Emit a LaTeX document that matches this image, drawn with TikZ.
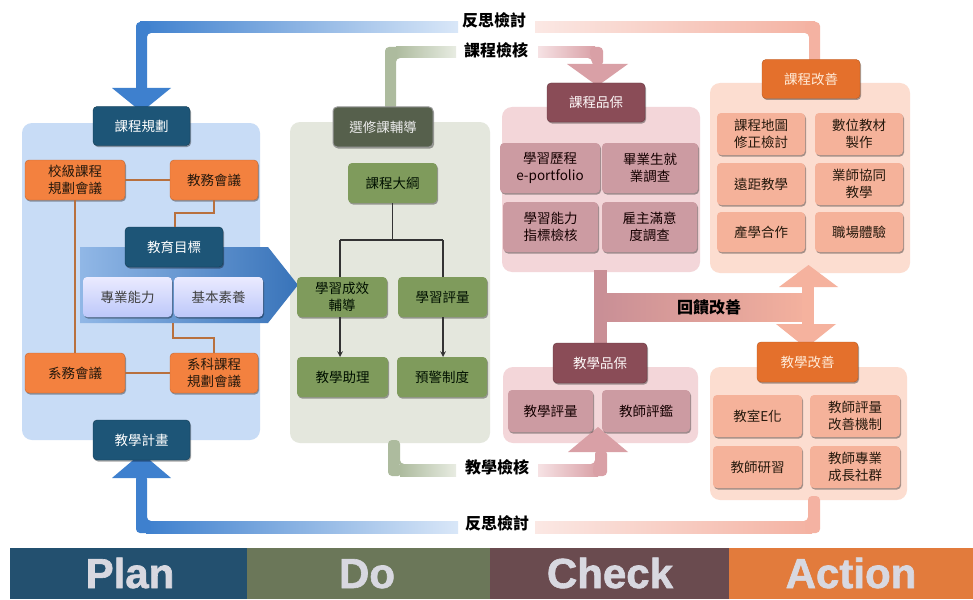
\documentclass[tikz,border=0pt]{standalone}
\usepackage{fontspec}
\newfontfamily\cjk{Noto Sans CJK TC}
\newfontfamily\band{Liberation Sans}[BoldFeatures={FakeBold=1.5}]
\usetikzlibrary{shadows}
\definecolor{bluA}{HTML}{3E80CE}
\definecolor{bluL}{HTML}{D9E7F8}
\definecolor{pinkA}{HTML}{F4B2A2}
\definecolor{pinkL}{HTML}{FBE8E4}
\definecolor{grnA}{HTML}{ADBB9E}
\definecolor{grnL}{HTML}{E8ECE2}
\definecolor{mauveA}{HTML}{D9A0A6}
\definecolor{mauveB}{HTML}{C98F96}
\definecolor{mauveL}{HTML}{F6E2E4}
\definecolor{salm}{HTML}{F5B29E}
\definecolor{planPanel}{HTML}{C8DCF6}
\definecolor{doPanel}{HTML}{E4E7DD}
\definecolor{chkPanel}{HTML}{F3D6D9}
\definecolor{actPanel}{HTML}{FCDDD0}
\definecolor{planHdr}{HTML}{1D5577}
\definecolor{planOr}{HTML}{F3813F}
\definecolor{doHdr}{HTML}{56604C}
\definecolor{doItem}{HTML}{7F9B5C}
\definecolor{chkHdr}{HTML}{8A4C57}
\definecolor{chkItem}{HTML}{CC9BA2}
\definecolor{actHdr}{HTML}{E4702C}
\definecolor{actItem}{HTML}{F5B29A}
\definecolor{lineOr}{HTML}{B8703E}
\definecolor{bandPlan}{HTML}{23506F}
\definecolor{bandDo}{HTML}{6B7759}
\definecolor{bandChk}{HTML}{6A4B4F}
\definecolor{bandAct}{HTML}{E27B3C}
\definecolor{bandTxt}{HTML}{D8D8E0}
\tikzset{
  shad/.style={drop shadow={shadow xshift=1pt,shadow yshift=-1.5pt,opacity=0.35,fill=black}},
  txt/.style={font=\cjk\fontsize{13.5}{17}\selectfont, align=center, inner sep=0pt},
  hdr/.style={txt, rounded corners=4pt, minimum height=39pt, shad},
  itm/.style={txt, rounded corners=4pt, shad},
  planhdr/.style={hdr, fill=planHdr, draw=planHdr!70!black, text=white},
  planor/.style={itm, fill=planOr, draw=planOr!80!black, text=black!80!brown, minimum width=98pt, minimum height=40pt},
  planlt/.style={itm, top color=blue!8!white, bottom color=planPanel!80!blue!70!white, text=black!75, minimum width=88pt, minimum height=40pt},
  dohdr/.style={hdr, fill=doHdr, draw=gray!80, line width=1pt, text=white!92!black},
  doitm/.style={itm, fill=doItem, text=black!80!green!30!black, minimum width=89pt, minimum height=40pt},
  chkhdr/.style={hdr, fill=chkHdr, draw=chkHdr!75!black, text=white!92!pink},
  chkitm/.style={itm, fill=chkItem, text=black!80!red!40!black, minimum height=50pt},
  acthdr/.style={hdr, fill=actHdr, draw=actHdr!80!black, text=orange!15!white},
  actitm/.style={itm, fill=actItem, text=black!80!brown, minimum width=88pt, minimum height=42pt},
  panel/.style={rounded corners=10pt},
  lbl/.style={font=\cjk\bfseries\fontsize{16}{18}\selectfont, text=black, inner sep=0pt},
  orline/.style={draw=lineOr, line width=1.6pt},
  tree/.style={draw=black!80, line width=1.5pt},
  bandtxt/.style={font=\band\bfseries\fontsize{42}{42}\selectfont, text=bandTxt, anchor=base, inner sep=0pt}
}
\begin{document}
\begin{tikzpicture}[x=1pt,y=-1pt]
\useasboundingbox (0,0) rectangle (973,599);
\fill[white] (0,0) rectangle (973,599);

% ---------- panels ----------
\fill[panel, planPanel] (22,123) rectangle (260,440);
\fill[panel, doPanel] (290,122) rectangle (490,443);
\fill[panel, chkPanel] (502,107) rectangle (700,272);
\fill[panel, chkPanel] (503,367) rectangle (698,443);
\fill[panel, actPanel] (710,83) rectangle (910,273);
\fill[panel, actPanel] (710,367) rectangle (907,500);

% ---------- big arrows ----------
\shade[left color=bluA, right color=bluL] (140,22) rectangle (458,33);
\fill[bluA, rounded corners=4pt] (136,95) -- (136,22) -- (150,22) -- (150,33) -- (147,33) -- (147,95) -- cycle;
\fill[bluA] (112,88) -- (171,88) -- (141.5,112) -- cycle;
\shade[left color=pinkL, right color=pinkA] (535,22) rectangle (815,33);
\fill[pinkA, rounded corners=4pt] (805,22) -- (820,22) -- (820,64) -- (809,64) -- (809,33) -- (805,33) -- cycle;
\fill[grnA, rounded corners=4pt] (385,110) -- (385,47) -- (400,47) -- (400,58) -- (396,58) -- (396,110) -- cycle;
\shade[left color=grnA, right color=grnL] (396,47) rectangle (456,58);
\shade[left color=mauveL, right color=mauveA] (538,47) rectangle (595,58);
\fill[mauveA, rounded corners=4pt] (590,47) -- (603,47) -- (603,66) -- (592,66) -- (592,58) -- (590,58) -- cycle;
\fill[mauveA] (567,64) -- (628,64) -- (597.5,86) -- cycle;
\fill[grnA, rounded corners=4pt] (388,440) -- (388,476) -- (402,476) -- (402,464) -- (400,464) -- (400,440) -- cycle;
\shade[left color=grnA, right color=grnL] (400,464) rectangle (456,476);
\shade[left color=mauveL, right color=mauveA] (538,464) rectangle (598,476);
\fill[mauveA, rounded corners=4pt] (595,450) -- (595,464) -- (593,464) -- (593,476) -- (607,476) -- (607,450) -- cycle;
\fill[mauveA] (568,452) -- (628,452) -- (598,427) -- cycle;
\shade[left color=bluA, right color=bluL] (146,521) rectangle (458,533);
\fill[bluA, rounded corners=4pt] (136,475) -- (136,533) -- (150,533) -- (150,521) -- (147,521) -- (147,475) -- cycle;
\fill[bluA] (112,478) -- (171,478) -- (141.5,453) -- cycle;
\shade[left color=pinkL, right color=pinkA] (535,521) rectangle (812,533);
\fill[pinkA, rounded corners=4pt] (805,521) -- (808,521) -- (808,496) -- (820,496) -- (820,533) -- (805,533) -- cycle;
\fill[mauveB] (594,270) rectangle (607,345);
\shade[left color=mauveB, right color=salm] (600,293) rectangle (812,321);
\fill[salm] (802,283) rectangle (814,328);
\fill[salm] (779,287) -- (838,287) -- (808.5,265) -- cycle;
\fill[salm] (776,324) -- (836,324) -- (806,348) -- cycle;
\shade[left color=planPanel!60!bluA, right color=bluA!90!black] (80,247) -- (268,247) -- (298,285) -- (268,323) -- (80,323) -- cycle;

% ---------- labels on arrows ----------
\node[lbl] (t1) at (494,20) {反思檢討};
\node[lbl] (t2) at (496,50) {課程檢核};
\node[lbl] (t3) at (497,467) {教學檢核};
\node[lbl] (t4) at (497,523) {反思檢討};
\node[lbl] (t5) at (709,307) {回饋改善};

% ---------- Plan ----------
\node[planhdr, minimum width=97pt] (p0) at (141.5,126) {課程規劃};
\node[planor, minimum width=100pt] (p1) at (75,180) {校級課程\\規劃會議};
\node[planor, minimum width=88pt] (p2) at (214,180) {教務會議};
\node[planhdr, minimum width=98pt, minimum height=40pt] (p3) at (174,247) {教育目標};
\node[planlt, minimum width=89pt] (p4) at (127.5,297) {專業能力};
\node[planlt, minimum width=89pt] (p5) at (218.5,297) {基本素養};
\node[planor, minimum width=100pt] (p6) at (75,373) {系務會議};
\node[planor, minimum width=88pt] (p7) at (214,373) {系科課程\\規劃會議};
\node[planhdr, minimum width=97pt, minimum height=40pt] (p8) at (141.5,440) {教學計畫};
\coordinate (pb) at (173,323);
\draw[orline] (p1.east) -- (p2.west);
\draw[orline] (p1.south) -- (p6.north);
\draw[orline] (p6.east) -- (p7.west);
\draw[orline] (p2.south) -- (214,213) -- (175,213) -- (175,227);
\draw[orline] (pb) -- (173,338) -- (214,338) -- (p7.north);

% ---------- Do ----------
\node[dohdr, minimum width=100pt, minimum height=40pt] (d0) at (383,127) {選修課輔導};
\node[doitm] (d1) at (392.5,183) {課程大綱};
\node[doitm, minimum width=90pt] (d2) at (342,297) {學習成效\\輔導};
\node[doitm] (d3) at (442.5,297) {學習評量};
\node[doitm, minimum width=91pt] (d4) at (342.5,377) {教學助理};
\node[doitm, minimum width=90pt] (d5) at (442,377) {預警制度};
\draw[tree] (d1.south) -- (392.5,240);
\draw[tree] (340,240) -- (443,240);
\draw[tree] (340,240) -- (340,277);
\draw[tree] (443,240) -- (443,277);
\draw[tree, -stealth] (340,317) -- (340,357);
\draw[tree, -stealth] (443,317) -- (443,357);

% ---------- Check ----------
\node[chkhdr, minimum width=98pt] (c0) at (596,102.5) {課程品保};
\node[chkitm, minimum width=100pt] (c1) at (550,168) {學習歷程\\e-portfolio};
\node[chkitm, minimum width=96pt] (c2) at (650,168) {畢業生就\\業調查};
\node[chkitm, minimum width=95pt] (c3) at (550.5,227) {學習能力\\指標檢核};
\node[chkitm, minimum width=95pt] (c4) at (649.5,227) {雇主滿意\\度調查};
\node[chkhdr, minimum width=94pt, minimum height=40pt] (c5) at (600,363) {教學品保};
\node[chkitm, minimum width=85pt, minimum height=42pt] (c6) at (550.5,411) {教學評量};
\node[chkitm, minimum width=88pt, minimum height=42pt] (c7) at (646,411) {教師評鑑};

% ---------- Action ----------
\node[acthdr, minimum width=98pt] (a0) at (811,79) {課程改善};
\node[actitm] (a1) at (761,134) {課程地圖\\修正檢討};
\node[actitm] (a2) at (859,134) {數位教材\\製作};
\node[actitm] (a3) at (761,184) {遠距教學};
\node[actitm] (a4) at (859,184) {業師協同\\教學};
\node[actitm, minimum height=40pt] (a5) at (761,232) {產學合作};
\node[actitm, minimum height=40pt] (a6) at (859,232) {職場體驗};
\node[acthdr, minimum width=101pt, minimum height=40pt] (a7) at (807.5,362) {教學改善};
\node[actitm, minimum width=89pt] (a8) at (757.5,416) {教室E化};
\node[actitm, minimum width=90pt] (a9) at (855,416) {教師評量\\改善機制};
\node[actitm, minimum width=89pt] (a10) at (757.5,467) {教師研習};
\node[actitm, minimum width=90pt] (a11) at (855,467) {教師專業\\成長社群};

% ---------- bottom band ----------
\fill[bandPlan] (10,548) rectangle (247,599);
\fill[bandDo] (247,548) rectangle (490,599);
\fill[bandChk] (490,548) rectangle (729,599);
\fill[bandAct] (729,548) rectangle (973,599);
\node[bandtxt] (bp) at (130,588) {Plan};
\node[bandtxt] (bd) at (367,588) {Do};
\node[bandtxt] (bc) at (610,588) {Check};
\node[bandtxt] (ba) at (851,588) {Action};
\end{tikzpicture}
\end{document}
